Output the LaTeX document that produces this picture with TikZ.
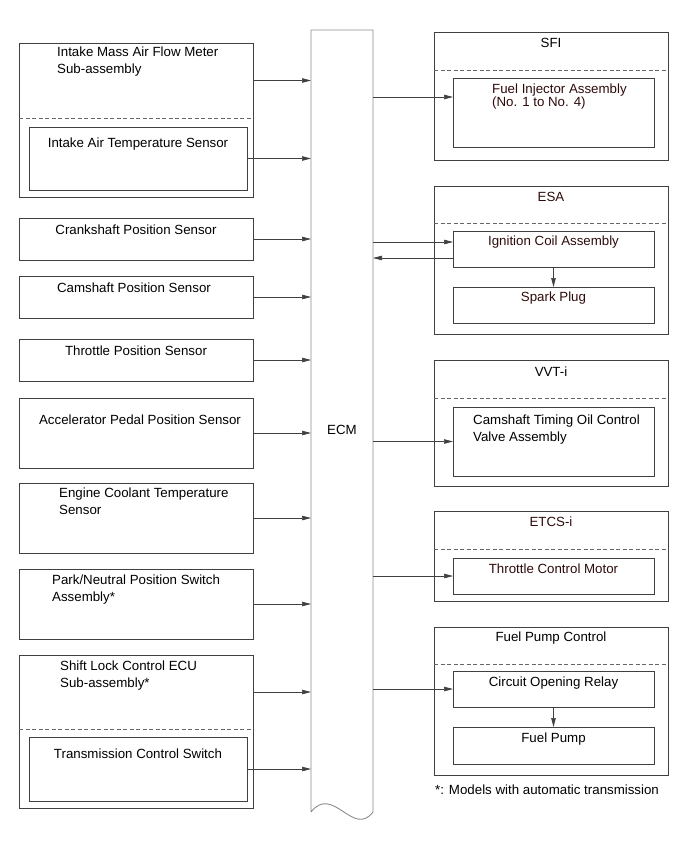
\documentclass[tikz,border=0pt]{standalone}
\usepackage{fontspec}
\setmainfont{Liberation Sans}
\usetikzlibrary{positioning, arrows.meta, fit}
\definecolor{boxline}{HTML}{404040}
\definecolor{ecmline}{HTML}{8C8C8C}
\definecolor{sepline}{HTML}{666666}
\definecolor{darktext}{HTML}{2E0A0A}

\begin{document}
\begin{tikzpicture}[
  x=1bp, y=-1bp,
  font=\fontsize{13.3bp}{16.5bp}\selectfont,
  partNode/.style={minimum width=234bp, inner sep=0pt, outer sep=0pt},
  frameNode/.style={draw=boxline, line width=0.8bp, inner sep=0pt, outer sep=0pt},
  sensorNode/.style={draw=boxline, line width=0.8bp, minimum width=234bp, inner sep=0pt, outer sep=0pt},
  subNode/.style={draw=boxline, line width=0.8bp, minimum width=218bp, inner sep=0pt, outer sep=0pt},
  actNode/.style={draw=boxline, line width=0.8bp, minimum width=201bp, inner sep=0pt, outer sep=0pt},
  textNode/.style={inner sep=0pt, align=left},
  sepLine/.style={draw=sepline, line width=0.8bp, dash pattern=on 4bp off 2.5bp},
  arrow/.style={-{Triangle[length=9bp,width=4.5bp]}, line width=0.7bp, draw=boxline}
]
\useasboundingbox (0,0) rectangle (691,854);

% ECM
\node[minimum width=62bp, minimum height=782bp, text height=27bp, inner sep=0pt, outer sep=0pt, anchor=north west] (ecm) at (311,30) {ECM};
\draw[draw=ecmline, line width=0.9bp] (ecm.south west) -- (ecm.north west) -- (ecm.north east) -- (ecm.south east)
  .. controls ([shift={(-20,26)}]ecm.south east) and ([shift={(22,-28)}]ecm.south west) .. (ecm.south west);

% Left column: sensors
\node[partNode, minimum height=75bp, anchor=north west] (imaf) at (19,43) {};
\node[subNode, minimum height=63bp, below=9bp of imaf, xshift=2bp] (iat) {};
\coordinate (imafB) at ([yshift=-7bp]iat.south);
\node[frameNode, fit=(imaf) (imafB)] (imafF) {};
\draw[sepLine] (imaf.south west) -- (imaf.south east);
\node[textNode, below right=4bp and 38bp of imaf.north west] (imafT) {Intake Mass Air Flow Meter\\Sub-assembly};
\node[textNode, below=11bp of iat.north] (iatT) {Intake Air Temperature Sensor};

\node[sensorNode, minimum height=42bp, below=21bp of imafF] (crank) {};
\node[textNode, below=7bp of crank.north] (crankT) {Crankshaft Position Sensor};

\node[sensorNode, minimum height=42bp, below=16bp of crank] (cam) {};
\node[textNode, below=7bp of cam.north, xshift=-2bp] (camT) {Camshaft Position Sensor};

\node[sensorNode, minimum height=42bp, below=21bp of cam] (tps) {};
\node[textNode, below=7bp of tps.north] (tpsT) {Throttle Position Sensor};

\node[sensorNode, minimum height=70bp, below=17bp of tps] (accel) {};
\node[textNode, below=17bp of accel.north, xshift=4bp] (accelT) {Accelerator Pedal Position Sensor};

\node[sensorNode, minimum height=70bp, below=15bp of accel] (ect) {};
\node[textNode, below right=5bp and 40bp of ect.north west] (ectT) {Engine Coolant Temperature\\Sensor};

\node[sensorNode, minimum height=70bp, below=16bp of ect] (pnp) {};
\node[textNode, below right=6bp and 33bp of pnp.north west] (pnpT) {Park/Neutral Position Switch\\Assembly*};

\node[partNode, minimum height=74bp, below=16bp of pnp] (shift) {};
\node[subNode, minimum height=64bp, below=8bp of shift, xshift=2bp] (tcs) {};
\coordinate (shiftB) at ([yshift=-7bp]tcs.south);
\node[frameNode, fit=(shift) (shiftB)] (shiftF) {};
\draw[sepLine] (shift.south west) -- (shift.south east);
\node[textNode, below right=6bp and 41bp of shift.north west] (shiftT) {Shift Lock Control ECU\\Sub-assembly*};
\node[textNode, below=12bp of tcs.north] (tcsT) {Transmission Control Switch};

% Right column: actuators
\node[partNode, minimum height=38bp, anchor=north west] (sfi) at (434,32) {};
\node[actNode, minimum height=69bp, below=8bp of sfi, xshift=2.5bp] (inj) {};
\coordinate (sfiB) at ([yshift=-13bp]inj.south);
\node[frameNode, fit=(sfi) (sfiB)] (sfiF) {};
\draw[sepLine] (sfi.south west) -- (sfi.south east);
\node[textNode, below=6bp of sfi.north] (sfiT) {SFI};
\node[textNode, text=darktext, below right=5.5bp and 39bp of inj.north west] (injT) {Fuel Injector Assembly\\[-3.5bp](No. 1 to No. 4)};

\node[partNode, minimum height=37bp, below=26bp of sfiF] (esa) {};
\node[actNode, minimum height=36bp, below=8bp of esa, xshift=2.5bp] (coil) {};
\node[actNode, minimum height=36bp, below=20bp of coil] (plug) {};
\coordinate (esaB) at ([yshift=-11bp]plug.south);
\node[frameNode, fit=(esa) (esaB)] (esaF) {};
\draw[sepLine] (esa.south west) -- (esa.south east);
\node[textNode, text=darktext, below=6bp of esa.north] (esaT) {ESA};
\node[textNode, text=darktext, below=5bp of coil.north] (coilT) {Ignition Coil Assembly};
\node[textNode, text=darktext, below=5bp of plug.north] (plugT) {Spark Plug};

\node[partNode, minimum height=38bp, below=26bp of esaF] (vvt) {};
\node[actNode, minimum height=69bp, below=9bp of vvt, xshift=2.5bp] (ocv) {};
\coordinate (vvtB) at ([yshift=-10bp]ocv.south);
\node[frameNode, fit=(vvt) (vvtB)] (vvtF) {};
\draw[sepLine] (vvt.south west) -- (vvt.south east);
\node[textNode, below=7bp of vvt.north] (vvtT) {VVT-i};
\node[textNode, below right=8bp and 20bp of ocv.north west] (ocvT) {Camshaft Timing Oil Control\\Valve Assembly};

\node[partNode, minimum height=38bp, below=25bp of vvtF] (etcs) {};
\node[actNode, minimum height=36bp, below=9bp of etcs, xshift=2.5bp] (motor) {};
\coordinate (etcsB) at ([yshift=-7bp]motor.south);
\node[frameNode, fit=(etcs) (etcsB)] (etcsF) {};
\draw[sepLine] (etcs.south west) -- (etcs.south east);
\node[textNode, text=darktext, below=6bp of etcs.north] (etcsT) {ETCS-i};
\node[textNode, text=darktext, below=6bp of motor.north] (motorT) {Throttle Control Motor};

\node[partNode, minimum height=37bp, below=26bp of etcsF] (fpc) {};
\node[actNode, minimum height=36bp, below=7bp of fpc, xshift=2.5bp] (relay) {};
\node[actNode, minimum height=37bp, below=20bp of relay] (pump) {};
\coordinate (fpcB) at ([yshift=-11bp]pump.south);
\node[frameNode, fit=(fpc) (fpcB)] (fpcF) {};
\draw[sepLine] (fpc.south west) -- (fpc.south east);
\node[textNode, below=5bp of fpc.north] (fpcT) {Fuel Pump Control};
\node[textNode, below=5.5bp of relay.north] (relayT) {Circuit Opening Relay};
\node[textNode, below=6bp of pump.north] (pumpT) {Fuel Pump};

\node[textNode, below right=9.5bp and 1bp of fpcF.south west] (note) {*: Models with automatic transmission};

% Inputs to ECM
\foreach \src in {imaf, iat, crank, cam, tps, accel, ect, pnp, shift, tcs}
  \draw[arrow] (\src.east) -- (\src.east -| ecm.west);

% Outputs from ECM
\coordinate (injIn) at ([yshift=15.5bp]inj.west);
\coordinate (coilIn) at ([yshift=7bp]coil.west);
\coordinate (coilOut) at ([yshift=-9bp]coil.west);
\draw[arrow] (injIn -| ecm.east) -- (injIn);
\draw[arrow] (coilIn -| ecm.east) -- (coilIn);
\draw[arrow] (coilOut) -- (coilOut -| ecm.east);
\draw[arrow] (ocv.west -| ecm.east) -- (ocv.west);
\draw[arrow] (motor.west -| ecm.east) -- (motor.west);
\draw[arrow] (relay.west -| ecm.east) -- (relay.west);
\draw[arrow] (coil.south) -- (plug.north);
\draw[arrow] (relay.south) -- (pump.north);

\end{tikzpicture}
\end{document}
